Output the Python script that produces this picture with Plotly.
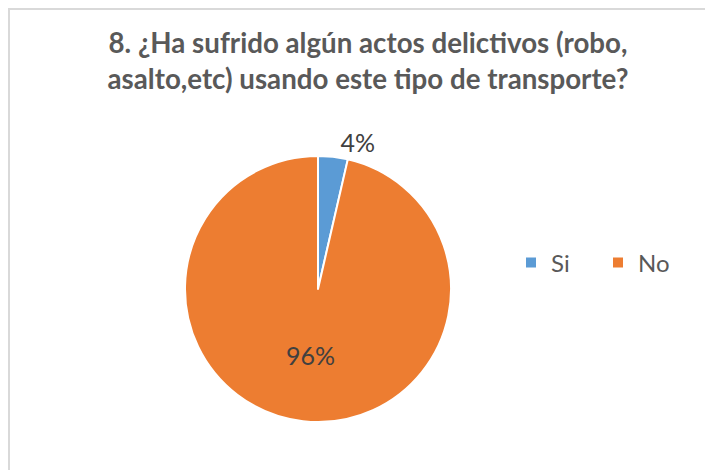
import plotly.graph_objects as go

labels = ["Si", "No"]
shares = [3.6, 96.4]
colors = ["#5B9BD5", "#ED7D31"]
label_pos = ["outside", "inside"]

title_text = "8. ¿Ha sufrido algún actos delictivos (robo,<br>asalto,etc) usando este tipo de transporte?"

W, H = 713, 470

fig = go.Figure(
    go.Pie(
        labels=labels,
        values=shares,
        sort=False,
        direction="clockwise",
        rotation=0,
        marker=dict(colors=colors, line=dict(color="white", width=2)),
        texttemplate="%{percent:.0%}",
        textposition=label_pos,
        textfont=dict(family="Lato", size=25, color="#404040"),
        insidetextorientation="horizontal",
        domain=dict(x=[177 / W, 443 / W], y=[49 / H, 329 / H]),
        hoverinfo="label+percent",
    )
)

fig.update_layout(
    width=W,
    height=H,
    margin=dict(l=0, r=0, t=0, b=0),
    paper_bgcolor="white",
    title=dict(
        text=title_text,
        x=360 / W,
        xanchor="center",
        y=1 - 45 / H,
        yanchor="middle",
        font=dict(family="Lato", size=27.7, color="#595959", weight="bold"),
    ),
    legend=dict(
        orientation="h",
        x=503 / W,
        xanchor="left",
        y=1 - 255 / H,
        yanchor="middle",
        font=dict(family="Lato", size=24, color="#595959"),
        entrywidth=42,
        entrywidthmode="pixels",
    ),
    shapes=[
        dict(
            type="rect",
            xref="paper",
            yref="paper",
            x0=1 / W,
            x1=1.05,
            y0=-0.05,
            y1=1 - 1 / H,
            line=dict(color="#D9D9D9", width=2),
            layer="below",
        )
    ],
)

fig.write_html("out.html")
